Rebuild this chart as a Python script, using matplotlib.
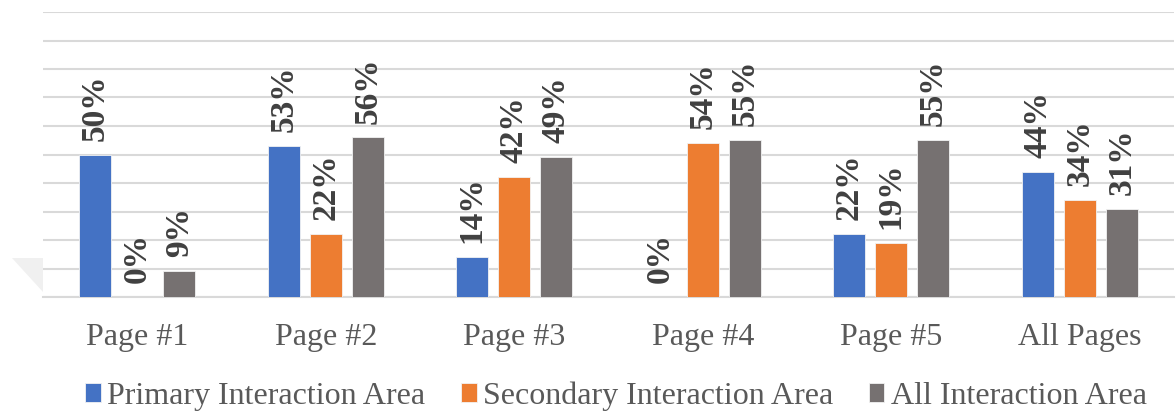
import numpy as np
import matplotlib
matplotlib.use('Agg')
from matplotlib import pyplot as plt
from matplotlib.patches import Polygon

# 数据
pages = ['Page #1', 'Page #2', 'Page #3', 'Page #4', 'Page #5', 'All Pages']
primary = [0.50, 0.53, 0.14, 0.00, 0.22, 0.44]
secondary = [0.00, 0.22, 0.42, 0.54, 0.19, 0.34]
all_area = [0.09, 0.56, 0.49, 0.55, 0.55, 0.31]
series_names = ['Primary Interaction Area', 'Secondary Interaction Area', 'All Interaction Area']
colors = ['#4472C4', '#ED7D31', '#767171']

plt.rcParams['font.family'] = ['Liberation Serif', 'DejaVu Serif']

W, H = 1176, 412
fig = plt.figure(figsize=(W / 100, H / 100), dpi=100)
ax = fig.add_axes([43 / W, (H - 297) / H, (1174 - 43) / W, (297 - 12) / H])

x = np.arange(len(pages))
width = 0.17
step = 0.223
for i, (vals, name, c) in enumerate(zip([primary, secondary, all_area], series_names, colors)):
    pos = x + (i - 1) * step
    ax.bar(pos, vals, width, color=c, label=name, edgecolor='#f2f2f2', linewidth=0.6, zorder=3)
    for xi, v in zip(pos, vals):
        ax.annotate(f'{int(round(v * 100))}%', (xi, v), xytext=(0, 10), textcoords='offset points',
                    rotation=90, ha='center', va='bottom', fontsize=24, fontweight='bold',
                    color='#404040', zorder=4)

ax.set_xlim(-0.5, len(pages) - 0.5)
ax.set_ylim(0, 1.0)
ax.set_yticks(np.arange(0, 1.01, 0.1))
ax.yaxis.grid(True, color='#D9D9D9', linewidth=1.5, zorder=0)
ax.tick_params(axis='y', left=False, labelleft=False)
ax.tick_params(axis='x', bottom=False, labelsize=23, labelcolor='#595959', pad=15)
ax.set_xticks(x)
ax.set_xticklabels(pages)
for s in ['top', 'right', 'left']:
    ax.spines[s].set_visible(False)
ax.spines['bottom'].set_color('#D9D9D9')
ax.spines['bottom'].set_linewidth(1.5)

leg = fig.legend(loc='center', bbox_to_anchor=(616 / W, (H - 396) / H), ncol=3, frameon=False,
                 fontsize=23, handlelength=0.5, handleheight=0.5, handletextpad=0.2,
                 columnspacing=1.1, labelcolor='#595959')

# 左侧淡灰色阴影
fig.patches.append(Polygon([[12 / W, (H - 258) / H], [43 / W, (H - 258) / H], [43 / W, (H - 292) / H]],
                           closed=True, transform=fig.transFigure, facecolor='#f0f0f0',
                           edgecolor='none', zorder=0))

fig.savefig('out.png', dpi=100)
